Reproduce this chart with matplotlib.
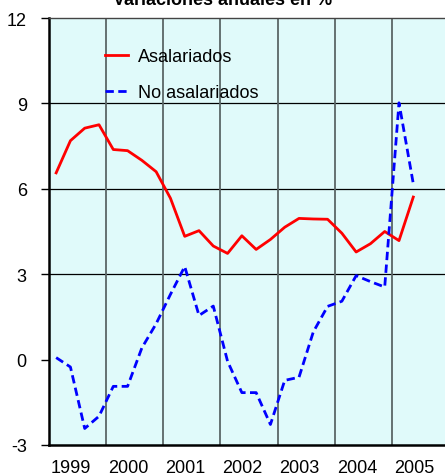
import matplotlib
matplotlib.use("Agg")
import matplotlib.pyplot as plt
import matplotlib.transforms as mtransforms
import numpy as np

# quarterly data, 1999Q1 .. 2005Q2
years = ["1999", "2000", "2001", "2002", "2003", "2004", "2005"]
asalariados = [6.56, 7.69, 8.13, 8.25, 7.38, 7.34, 7.00, 6.60,
               5.67, 4.33, 4.53, 3.99, 3.73, 4.35, 3.87, 4.22,
               4.65, 4.96, 4.94, 4.93, 4.44, 3.78, 4.07, 4.50,
               4.18, 5.71]
no_asalariados = [0.07, -0.26, -2.42, -1.99, -0.94, -0.94, 0.41, 1.26,
                  2.29, 3.27, 1.55, 1.88, -0.06, -1.16, -1.16, -2.28,
                  -0.73, -0.62, 0.97, 1.87, 2.05, 2.95, 2.74, 2.55,
                  9.02, 6.18]


def main():
    plt.rcParams['font.family'] = ['Liberation Sans', 'DejaVu Sans']
    plt.rcParams['axes.unicode_minus'] = False
    fig = plt.figure(figsize=(4.45, 4.77), dpi=100)
    ax = fig.add_axes([49 / 445, 31 / 477, 400 / 445, 427 / 477])
    ax.set_facecolor('#e0fafa')

    x = 1999 + (np.arange(len(asalariados)) + 0.5) / 4
    ax.plot(x, asalariados, color='#ff0000', lw=2.0, label='Asalariados', zorder=3)
    ax.plot(x, no_asalariados, color='#0000ff', lw=2.0, dashes=(3, 1.6),
            label='No asalariados', zorder=3)

    ax.set_xlim(1999, 2006)
    ax.set_ylim(-3, 12)
    ax.set_yticks([-3, 0, 3, 6, 9, 12])
    ax.set_xticks(np.arange(1999, 2007))
    ax.set_xticklabels([])
    ax.set_xticks(np.arange(1999, 2006) + 0.5, minor=True)
    ax.set_xticklabels(years, minor=True)
    ax.tick_params(axis='x', which='both', length=0, labelsize=13, pad=10)
    ax.tick_params(axis='y', length=6, width=1, labelsize=13, pad=10)

    # year labels sit a bit left of the band centres
    shift = mtransforms.ScaledTranslation(-6.5 / 100, 0, fig.dpi_scale_trans)
    for lab in ax.get_xticklabels(minor=True):
        lab.set_transform(lab.get_transform() + shift)

    for yv in [3, 6, 9]:
        ax.axhline(yv, color='black', lw=0.9, zorder=1)
    for xv in range(2000, 2006):
        ax.axvline(xv, color='#5a6666', lw=1.3, zorder=1)

    for side in ['left', 'bottom']:
        ax.spines[side].set_linewidth(1.8)
    ax.spines['top'].set_color('#444444')
    ax.spines['top'].set_linewidth(1.0)

    ax.legend(loc='upper left', bbox_to_anchor=(0.123, 0.946), frameon=False,
              fontsize=13, handlelength=1.25, handletextpad=0.55,
              labelspacing=1.05, borderaxespad=0)

    fig.text(0.5, 1 - 5 / 477, 'Variaciones anuales en %', ha='center',
             va='baseline', fontsize=13, fontweight='bold')

    fig.savefig('out.png', dpi=100)


if __name__ == '__main__':
    main()
